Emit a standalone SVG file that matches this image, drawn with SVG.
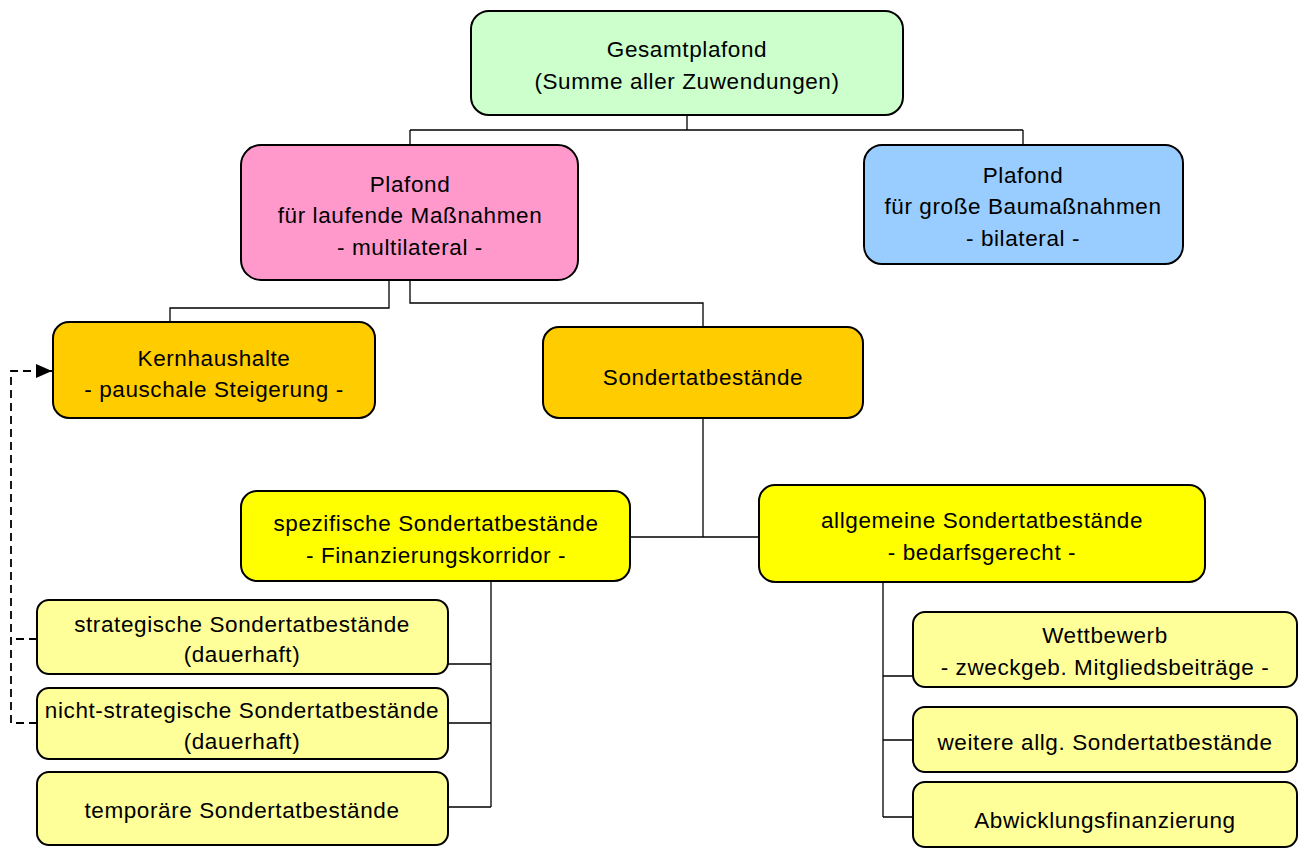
<svg xmlns="http://www.w3.org/2000/svg" width="1304" height="849" viewBox="0 0 1304 849">
<style>
.box{stroke:#000;stroke-width:2}
.t{font-family:"Liberation Sans",Arial,sans-serif;font-size:22.5px;letter-spacing:0.6px;text-anchor:middle;fill:#000}
.c{fill:none;stroke:#000;stroke-width:1.3}
.d{fill:none;stroke:#000;stroke-width:1.8;stroke-dasharray:8 5}
</style>
<defs>
<marker id="arr" markerWidth="16" markerHeight="14" refX="16" refY="7" orient="auto" markerUnits="userSpaceOnUse">
<path d="M0,0 L16,7 L0,14 Z" fill="#000"/>
</marker>
</defs>
<g id="connectors">
<path class="c" d="M687 115 V130 M410 130 H1023 M410 130 V145 M1023 130 V145"/>
<path class="c" d="M389 280 V308 H170 V322"/>
<path class="c" d="M410 280 V303 H703 V327"/>
<path class="c" d="M703 418 V537 M630 537 H759"/>
<path class="c" d="M491 581 V807 M448 664 H491 M448 723 H491 M448 807 H491"/>
<path class="c" d="M883 582 V817 M883 676 H913 M883 740 H913 M883 817 H913"/>
<path class="d" d="M37 723 H11 V371 H52" marker-end="url(#arr)"/>
<path class="d" d="M37 639 H11"/>
</g>
<g id="gesamtplafond">
<rect class="box" x="471" y="11" width="432" height="104" rx="18" fill="#CCFFCC"/>
<text class="t" x="687" y="57">Gesamtplafond</text>
<text class="t" x="687" y="89">(Summe aller Zuwendungen)</text>
</g>
<g id="plafond-laufend">
<rect class="box" x="241" y="145" width="337" height="135" rx="20" fill="#FF99CC"/>
<text class="t" x="410" y="192">Plafond</text>
<text class="t" x="410" y="223">für laufende Maßnahmen</text>
<text class="t" x="410" y="255">- multilateral -</text>
</g>
<g id="plafond-bau">
<rect class="box" x="864" y="145" width="319" height="119" rx="18" fill="#99CCFF"/>
<text class="t" x="1023" y="183">Plafond</text>
<text class="t" x="1023" y="214">für große Baumaßnahmen</text>
<text class="t" x="1023" y="246">- bilateral -</text>
</g>
<g id="kernhaushalte">
<rect class="box" x="53" y="322" width="322" height="96" rx="16" fill="#FFCC00"/>
<text class="t" x="214" y="366">Kernhaushalte</text>
<text class="t" x="214" y="397">- pauschale Steigerung -</text>
</g>
<g id="sondertatbestaende">
<rect class="box" x="543" y="327" width="320" height="91" rx="16" fill="#FFCC00"/>
<text class="t" x="703" y="385">Sondertatbestände</text>
</g>
<g id="spezifische">
<rect class="box" x="241" y="491" width="389" height="90" rx="16" fill="#FFFF00"/>
<text class="t" x="436" y="531">spezifische Sondertatbestände</text>
<text class="t" x="436" y="563">- Finanzierungskorridor -</text>
</g>
<g id="allgemeine">
<rect class="box" x="759" y="485" width="446" height="97" rx="16" fill="#FFFF00"/>
<text class="t" x="982" y="528">allgemeine Sondertatbestände</text>
<text class="t" x="982" y="560">- bedarfsgerecht -</text>
</g>
<g id="strategische">
<rect class="box" x="37" y="600" width="411" height="74" rx="12" fill="#FFFF99"/>
<text class="t" x="242" y="632">strategische Sondertatbestände</text>
<text class="t" x="242" y="662">(dauerhaft)</text>
</g>
<g id="nicht-strategische">
<rect class="box" x="37" y="688" width="411" height="71" rx="12" fill="#FFFF99"/>
<text class="t" x="242" y="718">nicht-strategische Sondertatbestände</text>
<text class="t" x="242" y="749">(dauerhaft)</text>
</g>
<g id="temporaere">
<rect class="box" x="37" y="772" width="411" height="73" rx="12" fill="#FFFF99"/>
<text class="t" x="242" y="818">temporäre Sondertatbestände</text>
</g>
<g id="wettbewerb">
<rect class="box" x="913" y="612" width="384" height="75" rx="12" fill="#FFFF99"/>
<text class="t" x="1105" y="643">Wettbewerb</text>
<text class="t" x="1105" y="675">- zweckgeb. Mitgliedsbeiträge -</text>
</g>
<g id="weitere">
<rect class="box" x="913" y="707" width="384" height="65" rx="12" fill="#FFFF99"/>
<text class="t" x="1105" y="750">weitere allg. Sondertatbestände</text>
</g>
<g id="abwicklung">
<rect class="box" x="913" y="782" width="384" height="65" rx="12" fill="#FFFF99"/>
<text class="t" x="1105" y="828">Abwicklungsfinanzierung</text>
</g>
</svg>
